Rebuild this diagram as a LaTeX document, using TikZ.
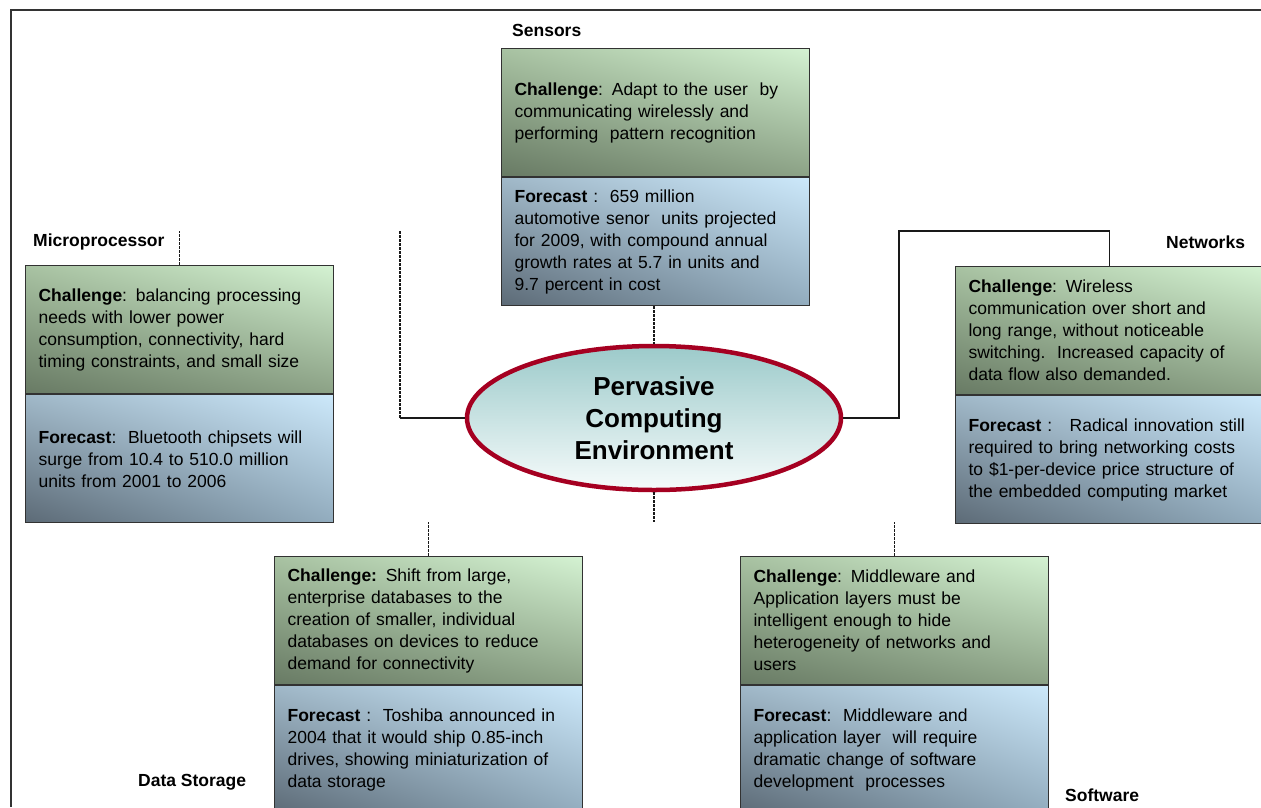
\documentclass[tikz,border=0pt]{standalone}
\usepackage{fontspec}
\setmainfont{Liberation Sans}
\usetikzlibrary{positioning, shapes.geometric, shadings}
\definecolor{chalUL}{RGB}{168,194,162}
\definecolor{chalUR}{RGB}{212,242,210}
\definecolor{chalLL}{RGB}{104,122,100}
\definecolor{chalLR}{RGB}{140,162,134}
\definecolor{fcUL}{RGB}{160,184,200}
\definecolor{fcUR}{RGB}{204,232,250}
\definecolor{fcLL}{RGB}{92,106,118}
\definecolor{fcLR}{RGB}{146,172,190}
\definecolor{pceTop}{RGB}{156,202,202}
\definecolor{pceBot}{RGB}{246,251,251}
\definecolor{pceRim}{RGB}{165,0,33}
\definecolor{boxline}{RGB}{50,50,50}
\newcommand{\hd}[1]{\textbf{#1}}

\begin{document}
\begin{tikzpicture}[
                x=1pt, y=-1pt,
                every node/.style={font=\fontsize{17.5}{22}\selectfont},
                half/.style={
                    rectangle,
                    draw=boxline,
                    line width=1.2pt,
                    text width=282pt,
                    inner xsep=13pt,
                    inner ysep=4pt,
                    minimum height=128pt,
                    align=left,
                },
                chal/.style={half, upper left=chalUL, upper right=chalUR,
                    lower left=chalLL, lower right=chalLR},
                fc/.style={half, upper left=fcUL, upper right=fcUR,
                    lower left=fcLL, lower right=fcLR},
                topic/.style={anchor=west, inner sep=0pt,
                    font=\fontsize{17.5}{20}\selectfont\bfseries},
                pce/.style={
                    ellipse,
                    draw=pceRim,
                    line width=4.5pt,
                    top color=pceTop,
                    bottom color=pceBot,
                    minimum width=374pt,
                    minimum height=144pt,
                    align=center,
                    font=\fontsize{26}{32}\selectfont\bfseries,
                },
                link/.style={draw=black!90, line width=1.3pt},
                stub/.style={link, line width=1.2pt, dash pattern=on 3pt off 1pt},
                frame/.style={draw=black!80, line width=2pt},
            ]
            \useasboundingbox (0,0) rectangle (1261,807);
            \draw[frame] (11,807) -- (11,10) -- (1261,10);

            \node [pce] (pce) at (654,418) {Pervasive\\Computing\\Environment};

            \node [chal, anchor=north west] (mpChal) at (25,265)
                {\hd{Challenge}: balancing processing\\needs with lower power\\consumption, connectivity, hard\\timing constraints, and small size};
            \node [fc, below=0pt of mpChal] (mpFc)
                {\hd{Forecast}:\ \ Bluetooth chipsets will\\surge from 10.4 to 510.0 million\\units from 2001 to 2006};

            \node [chal, anchor=north west] (sensChal) at (501,48)
                {\hd{Challenge}: Adapt to the user\ \ by\\communicating wirelessly and\\performing\ \ pattern recognition};
            \node [fc, below=0pt of sensChal] (sensFc)
                {\hd{Forecast} :\ \ 659 million\\automotive senor\ \ units projected\\for 2009, with compound annual\\growth rates at 5.7 in units and\\9.7 percent in cost};

            \node [chal, anchor=north west] (nwChal) at (955,266)
                {\hd{Challenge}: Wireless\\communication over short and\\long range, without noticeable\\switching.\ \ Increased capacity of\\data flow also demanded.};
            \node [fc, below=0pt of nwChal] (nwFc)
                {\hd{Forecast} :\ \ \ Radical innovation still\\required to bring networking costs\\to \$1-per-device price structure of\\the embedded computing market};

            \node [chal, anchor=north west] (dsChal) at (274,556)
                {\hd{Challenge:} Shift from large,\\enterprise databases to the\\creation of smaller, individual\\databases on devices to reduce\\demand for connectivity};
            \node [fc, below=0pt of dsChal] (dsFc)
                {\hd{Forecast} :\ \ Toshiba announced in\\2004 that it would ship 0.85-inch\\drives, showing miniaturization of\\data storage};

            \node [chal, anchor=north west] (swChal) at (740,556)
                {\hd{Challenge}: Middleware and\\Application layers must be\\intelligent enough to hide\\heterogeneity of networks and\\users};
            \node [fc, below=0pt of swChal] (swFc)
                {\hd{Forecast}:\ \ Middleware and\\application layer\ \ will require\\dramatic change of software\\development\ \ processes};

            \node [topic] (mpLbl) at (33,242) {Microprocessor};
            \node [topic] (sensLbl) at (512,30) {Sensors};
            \node [topic] (nwLbl) at (1166,242) {Networks};
            \node [topic] (dsLbl) at (138,782) {Data Storage};
            \node [topic] (swLbl) at (1065,795) {Software};

            \coordinate (mpTurn) at (400,231);
            \coordinate (nwTurn) at (899,231);
            \coordinate (lowRow) at (654,522);

            \draw [stub] (mpChal.north) -- (mpChal.north |- mpTurn);
            \draw [stub] (mpTurn) -- (mpTurn |- pce.west);
            \draw [link] (mpTurn |- pce.west) -- (pce.west);
            \draw [stub] (pce.north |- sensFc.south) -- (pce.north);
            \draw [link] (pce.east) -| (nwTurn) -| (nwChal.north);
            \draw [stub] (pce.south) -- (lowRow);
            \draw [stub] (dsChal.north) -- (dsChal.north |- lowRow);
            \draw [stub] (swChal.north) -- (swChal.north |- lowRow);
        \end{tikzpicture}
\end{document}
